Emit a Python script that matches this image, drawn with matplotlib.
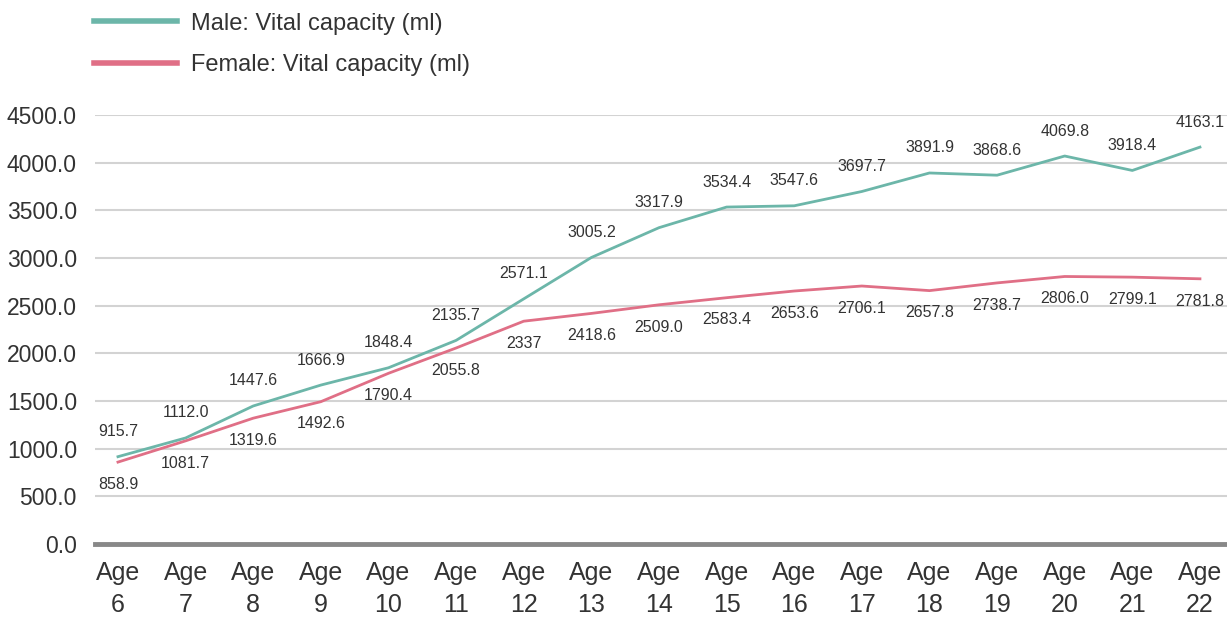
import matplotlib
matplotlib.use("Agg")
import matplotlib.pyplot as plt
import numpy as np

plt.rcParams['font.family'] = ['Liberation Sans', 'DejaVu Sans']

ages = [f"Age\n{a}" for a in range(6, 23)]
male = [915.7, 1112.0, 1447.6, 1666.9, 1848.4, 2135.7, 2571.1, 3005.2, 3317.9,
        3534.4, 3547.6, 3697.7, 3891.9, 3868.6, 4069.8, 3918.4, 4163.1]
female = [858.9, 1081.7, 1319.6, 1492.6, 1790.4, 2055.8, 2337, 2418.6, 2509.0,
          2583.4, 2653.6, 2706.1, 2657.8, 2738.7, 2806.0, 2799.1, 2781.8]
female_txt = ["858.9", "1081.7", "1319.6", "1492.6", "1790.4", "2055.8", "2337",
              "2418.6", "2509.0", "2583.4", "2653.6", "2706.1", "2657.8", "2738.7",
              "2806.0", "2799.1", "2781.8"]

MALE_C = '#6cb6a9'
FEMALE_C = '#e06f86'
TXT = '#333333'

fig = plt.figure(figsize=(12.27, 6.19), dpi=100)
ax = fig.add_axes([0.0774, 0.1212, 0.9226, 0.693])

x = np.arange(len(ages))
ax.plot(x, male, color=MALE_C, lw=2, label='Male: Vital capacity (ml)')
ax.plot(x, female, color=FEMALE_C, lw=2, label='Female: Vital capacity (ml)')

for i, v in enumerate(male):
    ax.annotate(f"{v:.1f}", (i, v), xytext=(0, 18), textcoords='offset points',
                ha='center', va='center', fontsize=11.5, color=TXT)
for i, v in enumerate(female):
    ax.annotate(female_txt[i], (i, v), xytext=(0, -16), textcoords='offset points',
                ha='center', va='center', fontsize=11.5, color=TXT)

ax.set_xlim(-0.34, 16.4)
ax.set_ylim(0, 4500)
ax.set_yticks(np.arange(0, 4501, 500))
ax.set_yticklabels([f"{t:.1f}" for t in np.arange(0, 4501, 500)], fontsize=16.5,
                   color=TXT)
ax.set_xticks(x)
ax.set_xticklabels(ages, fontsize=18, color=TXT, linespacing=1.45)
ax.tick_params(axis='x', length=0, pad=12)
ax.tick_params(axis='y', length=0, pad=13)

ax.grid(axis='y', color='#d3d3d3', lw=1.5)
ax.set_axisbelow(True)
for s in ['top', 'right', 'left']:
    ax.spines[s].set_visible(False)
ax.spines['bottom'].set_color('#888888')
ax.spines['bottom'].set_linewidth(3.5)

leg = fig.legend(loc='upper left', bbox_to_anchor=(0.069, 0.995), frameon=False,
                 fontsize=17, handlelength=3.5, handletextpad=0.6,
                 labelspacing=0.82, borderaxespad=0, labelcolor=TXT)
for h in leg.get_lines():
    h.set_linewidth(4)

fig.savefig("out.png", dpi=100)
